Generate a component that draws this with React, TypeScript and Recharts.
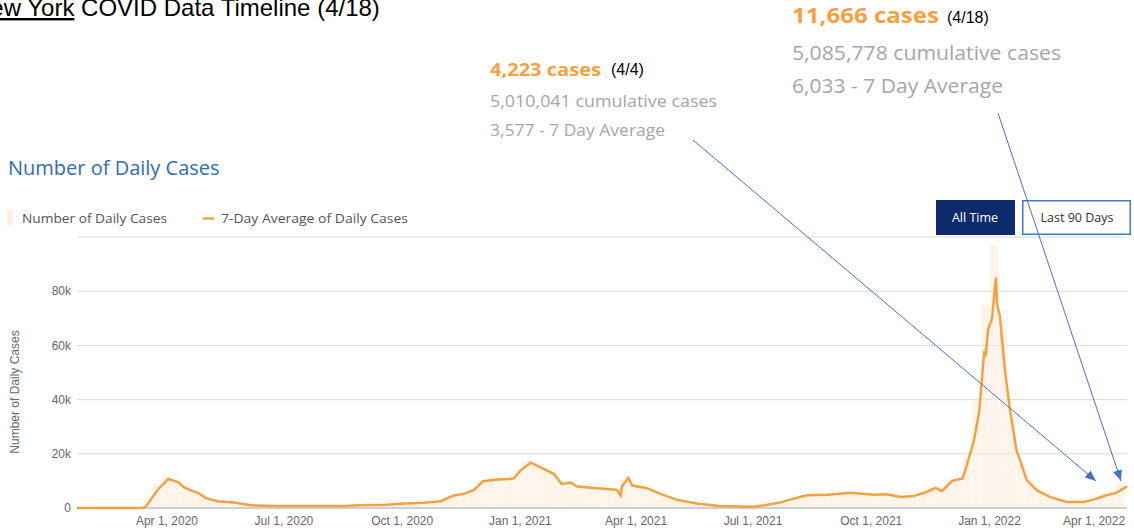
import React from 'react';
import { ComposedChart, Bar, Line, XAxis, YAxis, CartesianGrid } from 'recharts';

// x axis: days since Jan 22, 2020
const tickDays = [70, 161, 253, 345, 435, 526, 618, 710, 800];
const tickLabels = ['Apr 1, 2020', 'Jul 1, 2020', 'Oct 1, 2020', 'Jan 1, 2021', 'Apr 1, 2021', 'Jul 1, 2021', 'Oct 1, 2021', 'Jan 1, 2022', 'Apr 1, 2022'];
const yTicks = [0, 20000, 40000, 60000, 80000];

// daily cases sampled weekly (one value per week starting Jan 22, 2020)
const dailyCases = [
  0, 0, 0, 0, 0, 0, 0, 150, 4200, 9000,
  11800, 10900, 8400, 7000, 5000, 3400, 2700, 2300, 1900, 1300,
  950, 850, 800, 780, 760, 740, 720, 730, 740, 740,
  800, 980, 1100, 1150, 1250, 1450, 1750, 1850, 1950, 2150,
  2500, 3500, 5000, 5600, 7000, 10200, 11000, 11300, 11800, 14000,
  17500, 17000, 15200, 13400, 9800, 9900, 8300, 8000, 7700, 7500,
  7300, 10500, 8700, 8100, 6900, 5400, 4100, 3000, 2400, 1800,
  1350, 950, 720, 670, 600, 560, 870, 1400, 2100, 3000,
  4000, 4900, 5200, 5300, 5400, 5700, 6000, 5700, 5400, 5300,
  5500, 4900, 4500, 4800, 5900, 7300, 7000, 9800, 11500, 19000,
  40000, 75000, 97000, 66000, 33000, 16500, 9500, 6500, 4700, 3500,
  2400, 2400, 2500, 3400, 5000, 6200, 9500,
];
const weekDays = dailyCases.map((_, i) => i * 7);

// 7-day average, read at key dates (days since Jan 22, 2020)
const avgDays = [
  0, 50, 53, 56, 62, 66, 71, 75, 79, 83, 90, 95, 100, 109, 122, 137, 156, 180, 208, 220,
  241, 254, 270, 283, 293, 301, 309, 316, 327, 337, 340, 345, 353, 363, 371, 377, 384, 389, 402, 412,
  420, 423, 424, 429, 432, 443, 454, 467, 482, 500, 526, 535, 547, 558, 568, 584, 602, 620, 630, 641,
  651, 661, 668, 673, 681, 689, 692, 698, 702, 704, 706, 707, 709, 712, 715, 716, 718, 722, 726, 731,
  739, 747, 757, 770, 783, 791, 801, 808, 812, 817,
];
const avgCases = [
  0, 0, 300, 2100, 6200, 8300, 10700, 10100, 9500, 7700, 6200, 5400, 3700, 2500, 2000, 900, 750, 700, 700, 1000,
  1200, 1700, 1900, 2500, 4600, 5200, 6700, 9900, 10500, 10700, 11000, 13800, 16700, 14400, 12600, 8900, 9400, 7900, 7400, 7000,
  6700, 4600, 7900, 11100, 8300, 7400, 5200, 3000, 1700, 700, 500, 1000, 2000, 3500, 4700, 4900, 5600, 4900, 5100, 4100,
  4400, 5900, 7400, 6300, 10000, 10900, 15200, 25100, 35600, 47000, 58000, 56000, 66000, 70000, 85000, 75000, 71000, 51000, 36000, 21400,
  10300, 6500, 4100, 2200, 2200, 3100, 4700, 5500, 6500, 8000,
];

const barData = weekDays.map((d, i) => ({ day: d, daily: dailyCases[i] }));
const avgData = avgDays.map((d, i) => ({ day: d, avg: avgCases[i] }));

const ORANGE = '#f5a142';
const GRAY_TXT = '#a6a6a6';
const OPEN = "'Open Sans', 'Noto Sans', sans-serif";
const ARIAL = "'Liberation Sans', Arial, sans-serif";
const X_DOMAIN: [number, number] = [0, 817];
const Y_DOMAIN: [number, number] = [0, 100000];

const XTick = (props: any) => {
  const { x, y, payload } = props;
  const idx = tickDays.indexOf(payload.value);
  const last = idx === tickDays.length - 1;
  return (
    <text x={last ? x + 20 : x} y={y} dy="0.71em" textAnchor={last ? 'end' : 'middle'} fill="#666" fontSize={12} fontFamily={ARIAL}>
      {tickLabels[idx]}
    </text>
  );
};

export default function App() {
  return (
    <div style={{ position: 'fixed', left: 0, top: 0, width: 1134, height: 530, overflow: 'hidden', background: '#fff' }}>
      {/* bars, grid and axes */}
      <div style={{ position: 'absolute', left: 0, top: 0 }}>
        <ComposedChart width={1134} height={530} data={barData} margin={{ top: 237, right: 7, bottom: 2, left: 17 }}>
          <CartesianGrid vertical={false} stroke="#dadada" strokeWidth={1} />
          <XAxis
            dataKey="day"
            type="number"
            domain={X_DOMAIN}
            ticks={tickDays}
            interval={0}
            height={20}
            tickLine={false}
            axisLine={{ stroke: '#cfcfcf', strokeWidth: 2 }}
            tick={<XTick />}
          />
          <YAxis
            type="number"
            domain={Y_DOMAIN}
            ticks={yTicks}
            interval={0}
            width={60}
            tickLine={false}
            axisLine={false}
            tickSize={4}
            tickMargin={2}
            tick={{ fill: '#666', fontSize: 12, fontFamily: ARIAL }}
            tickFormatter={(v: number) => (v === 0 ? '0' : `${v / 1000}k`)}
          />
          <Bar dataKey="daily" barSize={9} fill="#fdebd8" fillOpacity={0.55} isAnimationActive={false} />
        </ComposedChart>
      </div>
      {/* 7-day average line, same plot box and domains */}
      <div style={{ position: 'absolute', left: 0, top: 0 }}>
        <ComposedChart width={1134} height={530} data={avgData} margin={{ top: 237, right: 7, bottom: 2, left: 17 }}>
          <XAxis dataKey="day" type="number" domain={X_DOMAIN} height={20} tick={false} tickLine={false} axisLine={false} />
          <YAxis type="number" domain={Y_DOMAIN} width={60} tick={false} tickLine={false} axisLine={false} />
          <Line dataKey="avg" type="linear" stroke={ORANGE} strokeWidth={2.5} dot={false} activeDot={false} isAnimationActive={false} />
        </ComposedChart>
      </div>
      <svg width={1134} height={530} style={{ position: 'absolute', left: 0, top: 0, pointerEvents: 'none' }}>
        <defs>
          <marker id="ah" markerWidth={11} markerHeight={9} refX={11} refY={4.5} orient="auto" markerUnits="userSpaceOnUse">
            <path d="M0,0 L11,4.5 L0,9 z" fill="#4472c4" />
          </marker>
        </defs>
        <text x={-27} y={16} fontFamily={ARIAL} fontSize={24} fill="#000">
          <tspan style={{ textDecoration: 'underline' }}>New York</tspan> COVID Data Timeline (4/18)
        </text>

        <text x={490} y={76} fontFamily={OPEN} fontWeight={700} fontSize={18} fill={ORANGE} textLength={111} lengthAdjust="spacingAndGlyphs">4,223 cases</text>
        <text x={611} y={75} fontFamily={ARIAL} fontSize={16} fill="#000">(4/4)</text>
        <text x={490} y={107} fontFamily={OPEN} fontSize={17} fill={GRAY_TXT} textLength={227} lengthAdjust="spacingAndGlyphs">5,010,041 cumulative cases</text>
        <text x={490} y={136} fontFamily={OPEN} fontSize={17} fill={GRAY_TXT} textLength={175} lengthAdjust="spacingAndGlyphs">3,577 - 7 Day Average</text>

        <text x={792} y={23} fontFamily={OPEN} fontWeight={700} fontSize={22} fill={ORANGE} textLength={147} lengthAdjust="spacingAndGlyphs">11,666 cases</text>
        <text x={947} y={23} fontFamily={ARIAL} fontSize={16} fill="#000">(4/18)</text>
        <text x={792} y={60} fontFamily={OPEN} fontSize={20} fill={GRAY_TXT} textLength={269} lengthAdjust="spacingAndGlyphs">5,085,778 cumulative cases</text>
        <text x={792} y={93} fontFamily={OPEN} fontSize={20} fill={GRAY_TXT} textLength={211} lengthAdjust="spacingAndGlyphs">6,033 - 7 Day Average</text>

        <text x={8} y={175} fontFamily={OPEN} fontSize={20} fill="#2f6db5">Number of Daily Cases</text>

        <rect x={7} y={210} width={6} height={15} fill="#fdeede" />
        <text x={22} y={223} fontFamily={OPEN} fontSize={13} fill="#555" textLength={145} lengthAdjust="spacingAndGlyphs">Number of Daily Cases</text>
        <line x1={203} y1={218.5} x2={214} y2={218.5} stroke={ORANGE} strokeWidth={2.5} />
        <text x={221} y={223} fontFamily={OPEN} fontSize={13} fill="#555" textLength={187} lengthAdjust="spacingAndGlyphs">7-Day Average of Daily Cases</text>

        <rect x={936} y={200} width={79} height={35} fill="#0c2a6c" />
        <text x={975} y={222} textAnchor="middle" fontFamily={OPEN} fontSize={12.5} fill="#fff">All Time</text>
        <rect x={1022.75} y={200.75} width={107.5} height={33.5} fill="#fff" stroke="#3d7cc9" strokeWidth={1.5} />
        <text x={1077} y={222} textAnchor="middle" fontFamily={OPEN} fontSize={12.5} fill="#333">Last 90 Days</text>

        <text x={0} y={0} transform="translate(19,392) rotate(-90)" textAnchor="middle" fontFamily={ARIAL} fontSize={12} fill="#666">Number of Daily Cases</text>

        <line x1={693} y1={140} x2={1096} y2={481} stroke="#4472c4" strokeWidth={1} markerEnd="url(#ah)" />
        <line x1={998} y1={113} x2={1121} y2={481} stroke="#4472c4" strokeWidth={1} markerEnd="url(#ah)" />
      </svg>
    </div>
  );
}
